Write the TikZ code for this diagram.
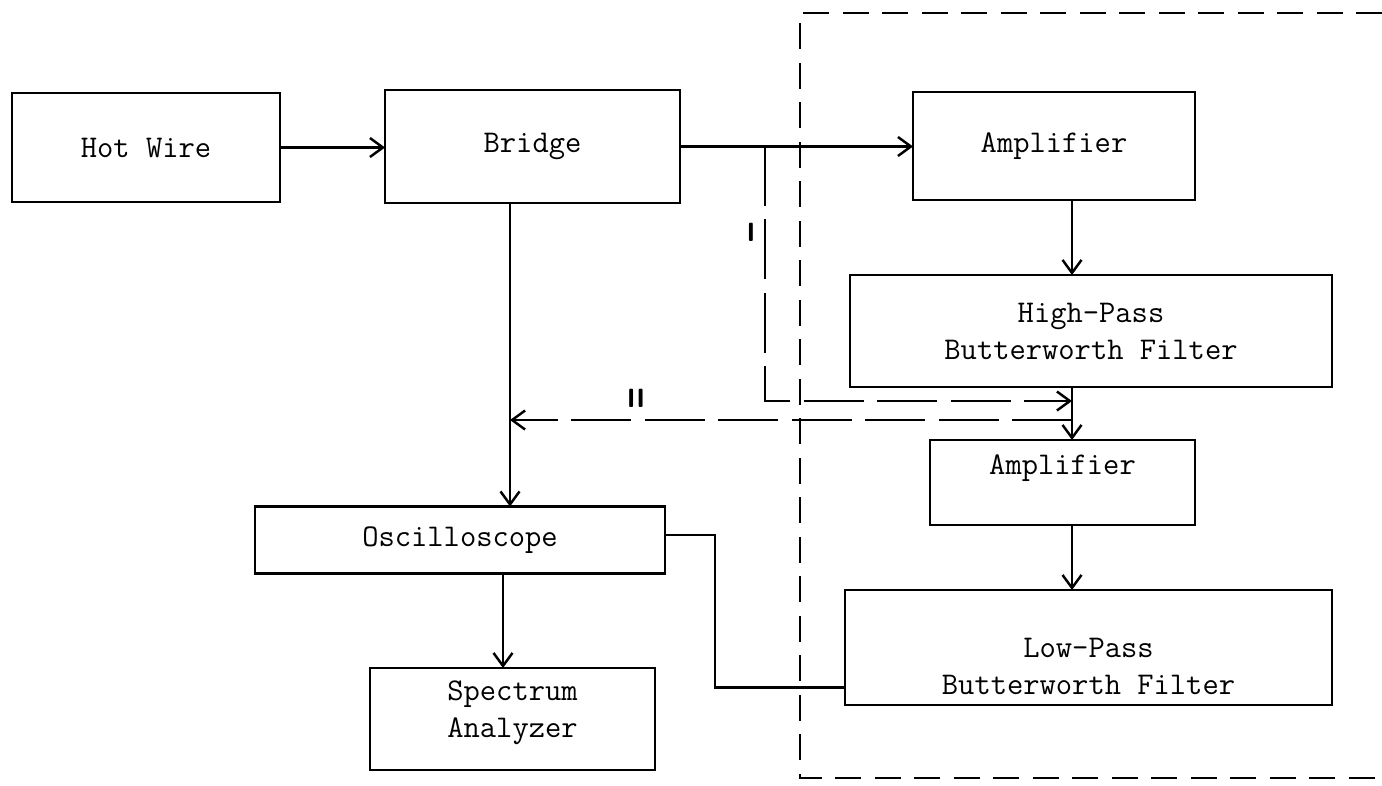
\documentclass[tikz,border=0pt]{standalone}
\usepackage{tikz}
\usetikzlibrary{positioning,arrows.meta,calc}

\begin{document}
\begin{tikzpicture}[
    x=0.02cm, y=-0.02cm,
    blk/.style={draw, line width=1.4pt, inner sep=0pt, outer sep=0pt, align=center,
                font=\ttfamily\fontsize{18}{21}\selectfont},
    wire/.style={line width=1.4pt},
    arr/.style={wire, -{Straight Barb[length=2.6mm, width=3.8mm, line width=1.4pt]}},
    darr/.style={arr, dash pattern=on 1.2cm off 0.27cm},
    frame/.style={line width=1.5pt, dash pattern=on 0.52cm off 0.27cm},
    tag/.style={font=\sffamily\bfseries\fontsize{15}{17}\selectfont, inner sep=0pt}]
  \useasboundingbox (0,0) rectangle (1382,785);
  % signal chain (left)
  \node[blk, minimum width=5.36cm, minimum height=2.18cm] (hot) at (146,147.5) {Hot Wire};
  \node[blk, minimum width=5.9cm, minimum height=2.26cm] (bridge) at (532.5,146.5) {Bridge};
  \node[blk, minimum width=8.2cm, minimum height=1.34cm] (osc) at (460,540) {Oscilloscope};
  \node[blk, minimum width=5.7cm, minimum height=2.04cm] (spec) at (512.5,719)
    {\raisebox{4pt}[\height][\depth]{\begin{tabular}{@{}c@{}}Spectrum\\Analyzer\end{tabular}}};
  % filter chain (right)
  \node[blk, minimum width=5.64cm, minimum height=2.16cm] (amp1) at (1054,146) {Amplifier};
  \node[blk, minimum width=9.64cm, minimum height=2.24cm] (hpf) at (1091,331) {High-Pass\\Butterworth Filter};
  \node[blk, minimum width=5.3cm, minimum height=1.7cm] (amp2) at (1062.5,482.5)
    {\raisebox{8pt}[\height][\depth]{Amplifier}};
  \node[blk, minimum width=9.74cm, minimum height=2.3cm] (lpf) at (1088.5,647.5)
    {\raisebox{-12pt}[\height][\depth]{\begin{tabular}{@{}c@{}}Low-Pass\\Butterworth Filter\end{tabular}}};
  % tap points
  \coordinate (xr) at (1072,0);
  \coordinate (xb) at (510,0);
  \coordinate (xs) at (503,0);
  \coordinate (tapI) at (765,146);
  \coordinate (inI) at (1072,401);
  \coordinate (outII) at (1072,420);
  \coordinate (inII) at (510,420);
  % solid connections
  \draw[arr] (hot.east) -- (hot.east -| bridge.west);
  \draw[arr] (bridge.east) -- (bridge.east -| amp1.west);
  \draw[arr] (amp1.south -| xr) -- (hpf.north -| xr);
  \draw[arr] (hpf.south -| xr) -- (amp2.north -| xr);
  \draw[arr] (amp2.south -| xr) -- (lpf.north -| xr);
  \draw[arr] (bridge.south -| xb) -- (osc.north -| xb);
  \draw[arr] (osc.south -| xs) -- (spec.north -| xs);
  \draw[wire] ([yshift=0.1cm]osc.east) -- ++(50,0) |- ([yshift=-0.8cm]lpf.west);
  % switched paths I and II
  \draw[darr] (tapI) |- (inI);
  \draw[darr] (outII) -- (inII);
  \node[tag] (lblI) at (751,232) {I};
  \node[tag] (lblII) at (636,398) {II};
  % enclosure
  \draw[frame] (1382,13) -- (800,13) -- (800,778) -- (1382,778);
\end{tikzpicture}
\end{document}
